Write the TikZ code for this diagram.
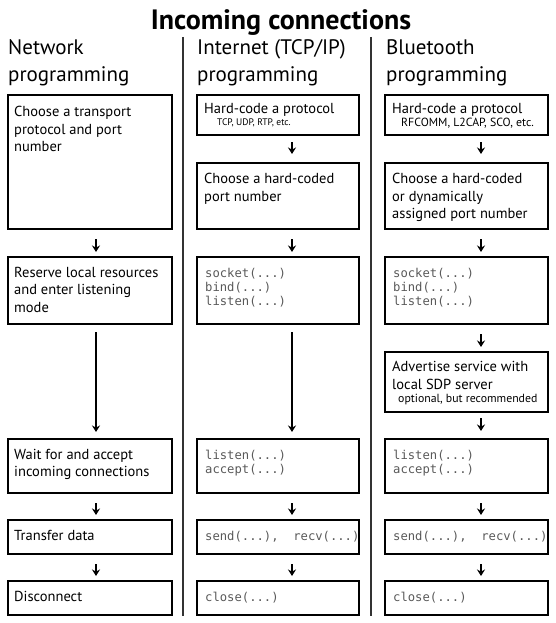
\documentclass[tikz,border=0pt]{standalone}
\usepackage{fontspec}
\setmainfont{PT Sans}
\setmonofont{DejaVu Sans Mono}
\usetikzlibrary{arrows.meta,calc}

\begin{document}
\begin{tikzpicture}[x=1pt,y=-1pt,
  box/.style={draw,line width=1.6pt,anchor=north west,inner sep=0pt,outer sep=0pt},
  body/.style={anchor=north west,inner sep=0pt,align=left,font=\fontsize{14.5}{17.5}\selectfont},
  code/.style={anchor=north west,inner sep=0pt,align=left,text=black!65,font=\ttfamily\fontsize{12.2}{14}\selectfont},
  note/.style={anchor=north west,inner sep=0pt,font=\fontsize{11.8}{13}\selectfont},
  head/.style={anchor=north west,inner sep=0pt,align=left,font=\fontsize{21}{27}\selectfont},
  divider/.style={line width=2pt,black!80},
  arr/.style={-{Stealth[length=6.5pt,width=8pt]},line width=1.1pt,shorten <=10pt,shorten >=5pt},
  longarr/.style={shorten <=8pt,shorten >=7pt}]
  \useasboundingbox (0,0) rectangle (556,623);
  % title and column heads
  \node[anchor=base,inner sep=0pt,font=\bfseries\fontsize{28}{32}\selectfont] (title) at (281,30) {Incoming connections};
  \node[head] (nethead) at (8,39) {Network\\programming};
  \node[head] (inethead) at (197,39) {Internet (TCP/IP)\\programming};
  \node[head] (bthead) at (386,39) {Bluetooth\\programming};
  \draw[divider] (183,37) -- (183,616);
  \draw[divider] (371,37) -- (371,616);
  % network programming
  \node[box,minimum width=164,minimum height=134] (net1) at (8,95) {};
  \node[box,minimum width=164,minimum height=67] (net2) at (8,257) {};
  \node[box,minimum width=164,minimum height=54] (net3) at (8,439) {};
  \node[box,minimum width=164,minimum height=34] (net4) at (8,520) {};
  \node[box,minimum width=164,minimum height=34] (net5) at (8,581) {};
  \node[body] (net1t) at ($(net1.north west)+(6,11)$) {Choose a transport\\protocol and port\\number};
  \node[body] (net2t) at ($(net2.north west)+(6,10)$) {Reserve local resources\\and enter listening\\mode};
  \node[body] (net3t) at ($(net3.north west)+(6,10)$) {Wait for and accept\\incoming connections};
  \node[body] (net4t) at ($(net4.north west)+(6,10)$) {Transfer data};
  \node[body] (net5t) at ($(net5.north west)+(6,10)$) {Disconnect};
  % internet programming
  \node[box,minimum width=162,minimum height=40] (inet1) at (197,95) {};
  \node[box,minimum width=162,minimum height=66] (inet2) at (197,163) {};
  \node[box,minimum width=162,minimum height=67] (inet3) at (197,257) {};
  \node[box,minimum width=162,minimum height=54] (inet4) at (197,439) {};
  \node[box,minimum width=162,minimum height=34] (inet5) at (197,520) {};
  \node[box,minimum width=162,minimum height=34] (inet6) at (197,581) {};
  \node[body] (inet1t) at ($(inet1.north west)+(7,8)$) {Hard-code a protocol};
  \node[note,font=\fontsize{9.5}{11}\selectfont] (inet1n) at ($(inet1.north west)+(20,24)$) {TCP, UDP, RTP, etc.};
  \node[body] (inet2t) at ($(inet2.north west)+(7,10)$) {Choose a hard-coded\\port number};
  \node[code] (inet3t) at ($(inet3.north west)+(8,11)$) {socket(...)\\bind(...)\\listen(...)};
  \node[code] (inet4t) at ($(inet4.north west)+(8,11)$) {listen(...)\\accept(...)};
  \node[code] (inet5t) at ($(inet5.north west)+(8,11)$) {send(...),~~recv(...)};
  \node[code] (inet6t) at ($(inet6.north west)+(8,11)$) {close(...)};
  % bluetooth programming
  \node[box,minimum width=163,minimum height=40] (bt1) at (385,95) {};
  \node[box,minimum width=163,minimum height=66] (bt2) at (385,163) {};
  \node[box,minimum width=163,minimum height=67] (bt3) at (385,257) {};
  \node[box,minimum width=163,minimum height=60] (bt4) at (385,352) {};
  \node[box,minimum width=163,minimum height=54] (bt5) at (385,439) {};
  \node[box,minimum width=163,minimum height=34] (bt6) at (385,520) {};
  \node[box,minimum width=163,minimum height=34] (bt7) at (385,581) {};
  \node[body] (bt1t) at ($(bt1.north west)+(7,8)$) {Hard-code a protocol};
  \node[note] (bt1n) at ($(bt1.north west)+(16,23)$) {RFCOMM, L2CAP, SCO, etc.};
  \node[body] (bt2t) at ($(bt2.north west)+(7,10)$) {Choose a hard-coded\\or dynamically\\assigned port number};
  \node[code] (bt3t) at ($(bt3.north west)+(8,11)$) {socket(...)\\bind(...)\\listen(...)};
  \node[body] (bt4t) at ($(bt4.north west)+(7,9)$) {Advertise service with\\local SDP server};
  \node[note] (bt4n) at ($(bt4.north west)+(13,42)$) {optional, but recommended};
  \node[code] (bt5t) at ($(bt5.north west)+(8,11)$) {listen(...)\\accept(...)};
  \node[code] (bt6t) at ($(bt6.north west)+(8,11)$) {send(...),~~recv(...)};
  \node[code] (bt7t) at ($(bt7.north west)+(8,11)$) {close(...)};
  % arrows
  \coordinate (netx) at (96,0);
  \coordinate (inetx) at (292,0);
  \coordinate (btx) at (481,0);
  \draw[arr] (net1.south -| netx) -- (net2.north -| netx);
  \draw[arr,longarr] (net2.south -| netx) -- (net3.north -| netx);
  \draw[arr] (net3.south -| netx) -- (net4.north -| netx);
  \draw[arr] (net4.south -| netx) -- (net5.north -| netx);
  \draw[arr,shorten <=7pt,shorten >=9pt] (inet1.south -| inetx) -- (inet2.north -| inetx);
  \draw[arr] (inet2.south -| inetx) -- (inet3.north -| inetx);
  \draw[arr,longarr] (inet3.south -| inetx) -- (inet4.north -| inetx);
  \draw[arr] (inet4.south -| inetx) -- (inet5.north -| inetx);
  \draw[arr] (inet5.south -| inetx) -- (inet6.north -| inetx);
  \draw[arr,shorten <=7pt,shorten >=9pt] (bt1.south -| btx) -- (bt2.north -| btx);
  \draw[arr] (bt2.south -| btx) -- (bt3.north -| btx);
  \draw[arr] (bt3.south -| btx) -- (bt4.north -| btx);
  \draw[arr,shorten <=6pt,shorten >=8pt] (bt4.south -| btx) -- (bt5.north -| btx);
  \draw[arr] (bt5.south -| btx) -- (bt6.north -| btx);
  \draw[arr] (bt6.south -| btx) -- (bt7.north -| btx);
\end{tikzpicture}
\end{document}
